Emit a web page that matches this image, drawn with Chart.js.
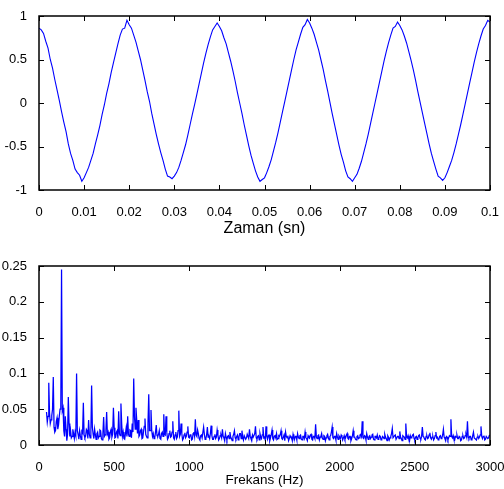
<!DOCTYPE html>
<html>
<head>
<meta charset="utf-8">
<script src="https://cdn.jsdelivr.net/npm/chart.js@4.4.0/dist/chart.umd.min.js"></script>
<style>
  body { margin: 0; background: #fff; }
  canvas { position: absolute; left: 0; }
  #signal { top: 0; }
  #spectrum { top: 245px; }
</style>
</head>
<body>
<canvas id="signal" width="504" height="240"></canvas>
<canvas id="spectrum" width="504" height="244"></canvas>
<script>
// time signal, one sample every 0.5 ms from 0 to 0.1 s
const sampleStep = 0.0005;
const signal = [
  0.86, 0.84, 0.80, 0.71, 0.63, 0.50, 0.40, 0.27, 0.15, 0.03,
  -0.10, -0.22, -0.33, -0.47, -0.58, -0.66, -0.76, -0.80, -0.83, -0.90,
  -0.86, -0.80, -0.74, -0.66, -0.58, -0.47, -0.37, -0.26, -0.13, -0.02,
  0.11, 0.22, 0.35, 0.46, 0.57, 0.68, 0.78, 0.85, 0.86, 0.95,
  0.90, 0.86, 0.78, 0.70, 0.60, 0.50, 0.38, 0.26, 0.13, 0.02,
  -0.12, -0.24, -0.36, -0.47, -0.57, -0.66, -0.76, -0.84, -0.85, -0.87,
  -0.84, -0.80, -0.74, -0.66, -0.57, -0.48, -0.37, -0.25, -0.13, -0.02,
  0.10, 0.22, 0.34, 0.46, 0.57, 0.67, 0.76, 0.84, 0.88, 0.92,
  0.88, 0.83, 0.75, 0.68, 0.58, 0.48, 0.37, 0.25, 0.12, 0.00,
  -0.12, -0.25, -0.37, -0.49, -0.60, -0.69, -0.78, -0.85, -0.90, -0.88,
  -0.86, -0.80, -0.73, -0.65, -0.55, -0.45, -0.34, -0.22, -0.10, 0.02,
  0.14, 0.26, 0.38, 0.50, 0.61, 0.70, 0.79, 0.87, 0.90, 0.96,
  0.92, 0.86, 0.79, 0.70, 0.61, 0.50, 0.39, 0.26, 0.14, 0.01,
  -0.12, -0.24, -0.36, -0.48, -0.59, -0.68, -0.78, -0.85, -0.87, -0.90,
  -0.86, -0.82, -0.75, -0.67, -0.57, -0.47, -0.36, -0.24, -0.12, 0.00,
  0.12, 0.24, 0.36, 0.48, 0.59, 0.69, 0.78, 0.86, 0.88, 0.93,
  0.89, 0.84, 0.77, 0.69, 0.59, 0.49, 0.38, 0.26, 0.13, 0.01,
  -0.11, -0.23, -0.35, -0.47, -0.58, -0.67, -0.76, -0.84, -0.86, -0.89,
  -0.86, -0.80, -0.73, -0.66, -0.57, -0.47, -0.36, -0.25, -0.13, -0.01,
  0.11, 0.23, 0.35, 0.47, 0.58, 0.68, 0.77, 0.85, 0.89, 0.95,
  0.93
];

// spectrum, one bin every 5 Hz from 50 Hz to 3000 Hz (20 bins per row = 100 Hz)
const binStart = 50;
const binStep = 5;
const spectrum = [
  0.046, 0.032, 0.040, 0.087, 0.045, 0.030, 0.035, 0.041, 0.050, 0.095, 0.025, 0.018, 0.020, 0.033, 0.038, 0.022, 0.028, 0.040, 0.050, 0.055,
  0.245, 0.048, 0.052, 0.020, 0.012, 0.040, 0.022, 0.006, 0.015, 0.067, 0.030, 0.012, 0.020, 0.010, 0.012, 0.022, 0.016, 0.009, 0.018, 0.013,
  0.100, 0.020, 0.015, 0.008, 0.020, 0.013, 0.008, 0.019, 0.017, 0.059, 0.014, 0.010, 0.012, 0.022, 0.020, 0.009, 0.035, 0.015, 0.010, 0.018,
  0.083, 0.025, 0.015, 0.009, 0.022, 0.014, 0.008, 0.016, 0.018, 0.010, 0.012, 0.021, 0.020, 0.009, 0.007, 0.016, 0.039, 0.012, 0.014, 0.020,
  0.046, 0.015, 0.018, 0.008, 0.010, 0.019, 0.022, 0.011, 0.015, 0.052, 0.024, 0.010, 0.011, 0.018, 0.020, 0.009, 0.047, 0.016, 0.013, 0.058,
  0.030, 0.012, 0.018, 0.009, 0.008, 0.016, 0.024, 0.012, 0.040, 0.015, 0.012, 0.021, 0.020, 0.010, 0.030, 0.018, 0.093, 0.040, 0.022, 0.052,
  0.035, 0.016, 0.035, 0.012, 0.014, 0.020, 0.022, 0.009, 0.010, 0.018, 0.026, 0.037, 0.015, 0.012, 0.010, 0.030, 0.071, 0.020, 0.020, 0.049,
  0.020, 0.012, 0.016, 0.009, 0.010, 0.018, 0.028, 0.013, 0.012, 0.015, 0.020, 0.009, 0.008, 0.016, 0.018, 0.012, 0.043, 0.015, 0.014, 0.040,
  0.018, 0.008, 0.010, 0.016, 0.020, 0.011, 0.012, 0.018, 0.033, 0.010, 0.008, 0.014, 0.018, 0.009, 0.011, 0.020, 0.048, 0.012, 0.015, 0.030,
  0.016, 0.007, 0.009, 0.014, 0.017, 0.010, 0.012, 0.018, 0.026, 0.011, 0.010, 0.014, 0.015, 0.007, 0.008, 0.016, 0.018, 0.012, 0.036, 0.014,
  0.012, 0.021, 0.016, 0.009, 0.007, 0.013, 0.014, 0.010, 0.010, 0.025, 0.015, 0.008, 0.009, 0.014, 0.025, 0.011, 0.012, 0.009, 0.016, 0.027,
  0.013, 0.008, 0.008, 0.012, 0.015, 0.009, 0.011, 0.021, 0.014, 0.007, 0.009, 0.013, 0.014, 0.010, 0.022, 0.012, 0.010, 0.006, 0.016, 0.011,
  0.007, 0.012, 0.013, 0.009, 0.018, 0.011, 0.009, 0.006, 0.012, 0.015, 0.020, 0.010, 0.008, 0.012, 0.014, 0.007, 0.011, 0.016, 0.016, 0.009,
  0.020, 0.011, 0.007, 0.013, 0.013, 0.008, 0.010, 0.015, 0.015, 0.009, 0.022, 0.012, 0.009, 0.006, 0.014, 0.011, 0.011, 0.016, 0.026, 0.010,
  0.008, 0.012, 0.013, 0.007, 0.016, 0.011, 0.009, 0.014, 0.025, 0.010, 0.011, 0.007, 0.026, 0.012, 0.008, 0.013, 0.014, 0.006, 0.010, 0.015,
  0.021, 0.009, 0.007, 0.012, 0.013, 0.010, 0.016, 0.008, 0.009, 0.013, 0.012, 0.015, 0.020, 0.009, 0.008, 0.011, 0.014, 0.006, 0.018, 0.012,
  0.010, 0.013, 0.006, 0.009, 0.013, 0.011, 0.011, 0.006, 0.015, 0.010, 0.008, 0.012, 0.012, 0.007, 0.016, 0.011, 0.009, 0.013, 0.014, 0.008,
  0.007, 0.012, 0.012, 0.009, 0.018, 0.010, 0.009, 0.006, 0.013, 0.011, 0.010, 0.014, 0.015, 0.008, 0.007, 0.012, 0.012, 0.009, 0.029, 0.011,
  0.009, 0.013, 0.014, 0.007, 0.011, 0.012, 0.016, 0.009, 0.008, 0.013, 0.012, 0.006, 0.010, 0.013, 0.015, 0.010, 0.007, 0.012, 0.013, 0.018,
  0.025, 0.010, 0.009, 0.012, 0.012, 0.007, 0.016, 0.011, 0.008, 0.013, 0.011, 0.009, 0.014, 0.012, 0.007, 0.010, 0.013, 0.008, 0.010, 0.014,
  0.016, 0.009, 0.008, 0.012, 0.012, 0.006, 0.009, 0.013, 0.020, 0.011, 0.011, 0.008, 0.007, 0.012, 0.013, 0.009, 0.010, 0.014, 0.015, 0.012,
  0.033, 0.010, 0.009, 0.013, 0.012, 0.007, 0.016, 0.011, 0.008, 0.012, 0.013, 0.009, 0.011, 0.014, 0.015, 0.008, 0.007, 0.012, 0.012, 0.010,
  0.014, 0.008, 0.009, 0.013, 0.012, 0.007, 0.008, 0.012, 0.011, 0.009, 0.015, 0.011, 0.009, 0.006, 0.013, 0.011, 0.007, 0.010, 0.012, 0.016,
  0.023, 0.010, 0.010, 0.013, 0.014, 0.008, 0.008, 0.012, 0.012, 0.009, 0.019, 0.011, 0.009, 0.006, 0.013, 0.012, 0.011, 0.008, 0.030, 0.012,
  0.010, 0.013, 0.008, 0.006, 0.013, 0.010, 0.011, 0.014, 0.015, 0.009, 0.007, 0.011, 0.012, 0.008, 0.010, 0.013, 0.014, 0.009, 0.008, 0.012,
  0.025, 0.012, 0.011, 0.008, 0.007, 0.012, 0.013, 0.009, 0.010, 0.014, 0.017, 0.010, 0.008, 0.011, 0.012, 0.007, 0.009, 0.013, 0.018, 0.010,
  0.011, 0.007, 0.008, 0.012, 0.013, 0.009, 0.010, 0.014, 0.022, 0.011, 0.009, 0.006, 0.012, 0.011, 0.007, 0.010, 0.013, 0.012, 0.036, 0.012,
  0.010, 0.013, 0.008, 0.007, 0.012, 0.011, 0.014, 0.009, 0.009, 0.012, 0.011, 0.006, 0.007, 0.012, 0.013, 0.009, 0.010, 0.013, 0.015, 0.011,
  0.033, 0.011, 0.009, 0.012, 0.012, 0.007, 0.008, 0.013, 0.018, 0.010, 0.010, 0.008, 0.007, 0.011, 0.012, 0.009, 0.011, 0.014, 0.026, 0.012,
  0.009, 0.012, 0.013, 0.007, 0.008, 0.012, 0.012, 0.009, 0.010, 0.013, 0.014
];

const timeTicks = [0, 0.01, 0.02, 0.03, 0.04, 0.05, 0.06, 0.07, 0.08, 0.09, 0.1];
const ampTicks = [-1, -0.5, 0, 0.5, 1];
const freqTicks = [0, 500, 1000, 1500, 2000, 2500, 3000];
const magTicks = [0, 0.05, 0.1, 0.15, 0.2, 0.25];

Chart.defaults.font.family = "'Liberation Sans', Arial, sans-serif";
Chart.defaults.font.size = 13;
Chart.defaults.color = "#000";

// matlab style frame with ticks pointing inwards on all four sides
const matlabBox = {
  id: "matlabBox",
  afterDraw(chart) {
    const { ctx, chartArea: a, scales } = chart;
    const len = 5;
    ctx.save();
    ctx.strokeStyle = "#000";
    ctx.lineWidth = 1;
    ctx.beginPath();
    scales.x.ticks.forEach((t) => {
      const px = Math.round(scales.x.getPixelForValue(t.value)) + 0.5;
      ctx.moveTo(px, a.bottom);
      ctx.lineTo(px, a.bottom - len);
      ctx.moveTo(px, a.top);
      ctx.lineTo(px, a.top + len);
    });
    scales.y.ticks.forEach((t) => {
      const py = Math.round(scales.y.getPixelForValue(t.value)) + 0.5;
      ctx.moveTo(a.left, py);
      ctx.lineTo(a.left + len, py);
      ctx.moveTo(a.right, py);
      ctx.lineTo(a.right - len, py);
    });
    ctx.stroke();
    ctx.lineWidth = 1.5;
    ctx.strokeRect(a.left, a.top, a.right - a.left, a.bottom - a.top);
    ctx.restore();
  },
};

function fixedTicks(list) {
  return (axis) => {
    axis.ticks = list.map((v) => ({ value: v }));
  };
}

const plainLabel = (v) => String(v);

function makeChart(id, points, opts) {
  return new Chart(document.getElementById(id), {
    type: "line",
    data: {
      datasets: [
        {
          data: points,
          borderColor: "#0000ff",
          borderWidth: opts.lineWidth,
          pointRadius: 0,
          tension: 0,
          fill: false,
        },
      ],
    },
    options: {
      responsive: false,
      animation: false,
      layout: { padding: { top: opts.padTop, right: 14, left: 0, bottom: 0 } },
      plugins: { legend: { display: false }, tooltip: { enabled: false } },
      scales: {
        x: {
          type: "linear",
          min: opts.xMin,
          max: opts.xMax,
          grid: { display: false },
          border: { display: false },
          afterBuildTicks: fixedTicks(opts.xTicks),
          afterFit: (s) => {
            s.height = opts.xHeight;
            s.paddingLeft = 0;
            s.paddingRight = 0;
          },
          ticks: { padding: 7, maxRotation: 0, autoSkip: false, callback: plainLabel },
          title: {
            display: true,
            text: opts.xTitle,
            font: { size: opts.titleSize },
            padding: { top: 0, bottom: opts.titlePad },
          },
        },
        y: {
          min: opts.yMin,
          max: opts.yMax,
          grid: { display: false },
          border: { display: false },
          afterBuildTicks: fixedTicks(opts.yTicks),
          afterFit: (s) => {
            s.width = 39;
            s.paddingTop = 0;
            s.paddingBottom = 0;
          },
          ticks: { padding: 4, autoSkip: false, callback: plainLabel },
        },
      },
    },
    plugins: [matlabBox],
  });
}

const signalPoints = signal.map((v, i) => ({ x: i * sampleStep, y: v }));
const spectrumPoints = spectrum.map((v, i) => ({ x: binStart + i * binStep, y: v }));

makeChart("signal", signalPoints, {
  padTop: 16, xHeight: 50, xMin: 0, xMax: 0.1, yMin: -1, yMax: 1,
  xTicks: timeTicks, yTicks: ampTicks, lineWidth: 1.1,
  xTitle: "Zaman (sn)", titleSize: 16, titlePad: 2,
});

makeChart("spectrum", spectrumPoints, {
  padTop: 21, xHeight: 44, xMin: 0, xMax: 3000, yMin: 0, yMax: 0.25,
  xTicks: freqTicks, yTicks: magTicks, lineWidth: 1.25,
  xTitle: "Frekans (Hz)", titleSize: 13.5, titlePad: 1,
});
</script>
</body>
</html>
